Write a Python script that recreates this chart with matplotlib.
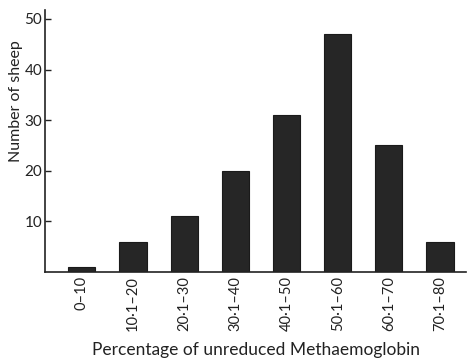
import matplotlib.pyplot as plt

# ranges of unreduced methaemoglobin (%) and number of sheep in each
categories = ["0–10", "10·1–20", "20·1–30", "30·1–40",
              "40·1–50", "50·1–60", "60·1–70", "70·1–80"]
counts = [1, 6, 11, 20, 31, 47, 25, 6]
y_ticks = [10, 20, 30, 40, 50]

plt.rcParams["font.family"] = ["Lato", "DejaVu Sans"]

fig = plt.figure(figsize=(4.68, 3.64), dpi=100)
ax = fig.add_axes([0.096, 0.253, 0.9, 0.72])

x = list(range(len(categories)))
ax.bar(x, counts, width=0.53, color="#262626", edgecolor="#1a1a1a", linewidth=0.8)

ax.set_xlim(-0.72, 7.51)
ax.set_ylim(0, 51.8)
ax.set_yticks(y_ticks)
ax.set_yticklabels([str(v) for v in y_ticks], fontsize=11, color="#222222")
ax.set_xticks(x)
ax.set_xticklabels(categories, rotation=90, fontsize=10.5, color="#222222")

ax.tick_params(axis="y", direction="in", length=4, width=1, pad=2, color="#222222")
ax.tick_params(axis="x", length=0, pad=3)

for side in ("top", "right"):
    ax.spines[side].set_visible(False)
for side in ("left", "bottom"):
    ax.spines[side].set_linewidth(1.2)
    ax.spines[side].set_color("#222222")

ax.set_ylabel("Number of sheep", fontsize=11.5, color="#222222")
ax.yaxis.set_label_coords(-0.053, 0.65)
ax.set_xlabel("Percentage of unreduced Methaemoglobin", fontsize=12.5,
              color="#222222", labelpad=8)

fig.savefig("out.png", dpi=100)
